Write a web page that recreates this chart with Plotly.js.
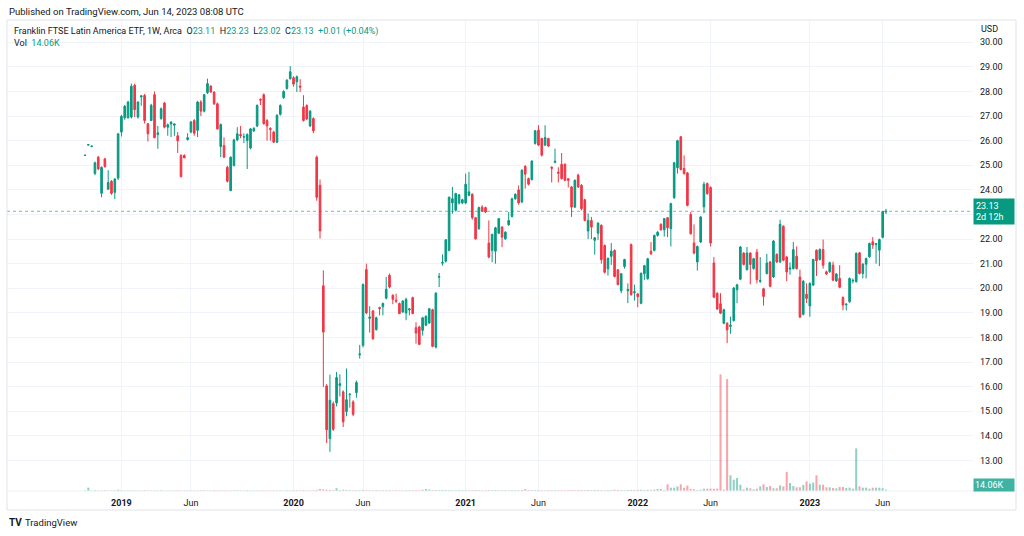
<!DOCTYPE html>
<html>
<head>
<meta charset="utf-8">
<script src="https://cdn.plot.ly/plotly-3.0.1.min.js"></script>
<style>html,body{margin:0;padding:0;background:#fff;}#chart{width:1024px;height:536px;}</style>
</head>
<body>
<div id="chart"></div>
<script>
// ---- DATA (weekly bars, FLLA) ----
const firstWeek = '2018-10-22';
const openP = [25.40,25.82,25.76,24.67,25.33,23.86,25.26,24.03,24.35,23.90,
24.48,26.35,26.93,26.93,26.96,28.25,26.96,27.78,27.84,26.69,
26.82,27.87,26.25,26.90,27.53,26.55,26.68,26.63,26.20,25.40,
25.40,26.05,26.35,26.82,26.42,27.57,27.20,27.95,28.22,27.98,
27.50,25.76,25.80,24.92,23.97,24.99,26.03,26.25,26.15,26.00,
25.70,26.40,26.60,27.68,27.87,26.82,26.50,26.35,25.94,27.07,
27.75,28.12,28.52,28.56,28.40,28.22,27.37,27.43,26.60,26.90,
25.33,24.19,20.10,16.03,13.89,15.31,15.34,16.05,15.79,14.99,
15.68,15.38,15.76,17.30,17.68,20.76,18.78,19.08,18.32,19.22,
19.25,19.60,20.53,19.72,19.52,19.38,19.04,19.00,19.12,19.62,
18.40,18.43,18.29,18.50,18.59,19.13,17.61,20.45,21.02,21.10,
21.54,23.47,23.17,23.47,23.47,23.47,23.78,23.82,22.87,22.42,
23.30,23.28,21.84,21.54,21.51,22.24,22.49,22.01,22.58,22.92,
23.64,24.00,23.51,24.96,24.46,24.42,25.89,26.43,26.09,25.82,
26.09,24.92,25.12,24.72,25.04,25.04,24.45,24.12,23.30,24.60,
24.19,23.60,22.33,22.76,21.95,22.24,22.56,21.74,20.79,21.30,
21.54,20.75,19.90,20.89,19.90,21.78,19.82,19.77,19.39,20.59,
20.39,21.51,21.54,22.15,22.60,22.38,22.87,22.42,23.68,24.90,
26.16,24.87,24.69,23.00,21.84,21.07,21.88,23.31,24.26,24.10,
21.03,19.80,19.37,18.58,18.58,18.45,18.69,19.94,20.37,21.43,
20.76,21.43,20.80,21.47,20.28,19.98,20.60,21.07,20.46,21.38,
21.07,22.52,21.27,20.78,20.80,21.30,20.46,18.94,19.76,19.28,
20.13,21.55,21.17,21.58,20.67,20.67,20.94,20.30,20.40,19.63,
19.33,19.45,20.30,20.27,21.44,20.60,20.98,21.28,21.89,21.78,
21.55,22.07,23.11];
const highP = [25.42,25.86,25.80,25.15,25.38,24.95,25.30,24.80,24.40,24.48,
26.30,27.05,27.45,27.62,28.32,28.32,27.60,27.86,27.90,26.72,
27.50,28.00,26.60,27.35,27.58,26.70,26.80,26.70,26.35,25.45,
25.45,26.30,26.80,26.88,27.62,27.65,27.90,28.52,28.25,28.00,
27.55,26.70,26.14,24.98,25.36,26.08,26.55,26.60,26.30,26.30,
26.52,26.55,27.48,27.72,27.92,26.88,26.55,26.40,27.08,27.48,
28.05,28.50,29.03,28.62,28.65,28.50,27.85,27.48,27.25,26.95,
25.40,24.42,20.73,16.10,16.49,15.40,16.60,16.50,15.85,16.74,
15.72,15.45,16.25,17.70,20.20,21.00,19.27,19.12,18.85,19.25,
19.42,20.46,20.60,19.75,19.78,19.42,19.52,19.62,19.20,19.66,
18.62,18.48,18.84,18.90,19.20,19.17,19.84,20.62,21.38,22.00,
23.71,24.12,23.88,23.82,23.64,24.66,24.73,23.86,22.90,23.32,
23.38,23.32,22.76,22.22,22.50,22.86,22.52,22.32,23.10,23.68,
23.86,24.18,24.84,25.00,24.50,25.20,26.44,26.63,26.12,26.63,
26.12,24.96,25.68,24.92,25.50,25.08,24.48,24.16,24.42,24.66,
24.23,23.64,23.04,22.90,22.08,22.68,22.60,21.78,21.25,21.84,
21.58,20.78,20.62,21.20,20.20,21.82,20.15,19.80,20.64,20.95,
21.24,21.88,22.18,22.32,22.64,22.86,22.90,23.48,25.14,26.04,
26.18,25.40,24.73,23.10,22.60,21.74,22.94,24.33,24.30,24.14,
21.27,19.84,19.80,19.17,18.62,18.85,20.05,20.18,21.72,21.47,
21.68,21.47,21.24,21.60,21.27,20.02,21.40,21.11,21.96,21.42,
22.79,22.56,21.31,21.05,21.88,21.70,20.76,20.33,20.20,20.24,
21.20,21.58,21.62,21.98,20.72,21.08,21.08,20.62,20.94,19.67,
19.40,20.44,20.40,21.46,21.48,21.02,21.25,21.86,22.08,21.84,
22.02,23.15,23.23];
const lowP = [25.38,25.80,25.74,24.60,24.80,23.70,24.90,24.00,23.80,23.63,
24.40,26.17,26.85,26.90,26.90,26.96,26.90,27.42,26.70,25.97,
26.80,26.10,25.67,26.85,26.50,26.20,26.15,26.20,25.50,24.50,
25.30,26.00,26.30,26.20,26.15,27.00,27.15,27.90,27.95,27.45,
26.45,25.33,25.30,24.30,23.95,24.95,25.98,26.10,25.90,24.85,
25.65,26.35,26.55,27.45,26.65,26.00,26.00,25.90,25.90,27.02,
27.70,28.08,28.48,28.20,27.98,27.98,26.78,26.84,26.55,26.30,
23.56,22.02,15.99,13.71,13.35,14.20,15.20,15.60,14.36,14.80,
15.15,14.80,15.55,17.14,17.60,18.95,18.20,17.90,18.28,18.90,
18.90,19.55,20.00,19.35,19.40,18.95,19.00,18.70,18.90,18.95,
17.75,17.70,18.08,18.46,18.55,17.60,17.55,20.05,20.92,21.05,
21.50,23.03,23.12,23.40,23.42,23.42,23.74,22.79,21.98,22.38,
23.10,23.06,21.22,21.06,21.00,22.20,21.67,21.97,22.54,22.88,
23.60,23.40,23.46,24.05,24.18,24.38,25.84,25.78,25.36,25.78,
25.74,24.30,25.08,24.30,24.42,24.35,24.10,22.90,23.26,24.08,
23.17,22.72,22.00,22.00,21.37,21.97,21.00,20.60,20.52,20.95,
20.44,20.12,19.80,20.80,19.40,19.70,19.50,19.23,19.35,20.34,
20.35,21.36,21.50,22.10,22.34,22.10,22.08,21.70,23.64,24.66,
24.79,24.62,23.33,22.18,21.38,20.72,21.84,23.05,23.80,21.70,
19.60,19.12,18.95,18.54,17.77,18.15,18.65,19.40,20.33,20.93,
20.72,20.16,20.76,20.20,20.22,19.30,20.56,20.04,20.42,21.03,
21.03,21.10,20.29,20.55,20.76,20.76,18.79,18.90,19.40,18.84,
20.09,20.50,21.13,20.80,20.54,20.63,20.29,20.26,20.00,19.11,
19.10,19.41,20.20,20.23,20.56,20.40,20.40,21.24,21.60,21.00,
20.90,22.03,23.02];
const closeP = [25.41,25.84,25.78,25.10,24.85,24.92,24.95,24.30,23.86,24.44,
26.28,26.99,27.40,27.57,28.21,27.26,27.57,27.82,26.82,26.28,
27.44,26.12,26.32,27.30,26.55,26.65,26.75,26.68,26.00,24.54,
25.30,26.12,26.76,26.30,27.57,27.20,27.87,28.32,27.98,27.50,
26.48,26.66,25.33,24.35,25.33,26.03,26.28,26.20,26.16,26.25,
26.48,26.50,27.43,27.65,26.69,26.60,26.45,25.94,27.03,27.43,
28.00,28.46,28.80,28.30,28.60,28.18,26.82,26.88,27.20,26.40,
23.70,22.33,18.22,14.25,15.45,14.27,16.37,16.12,14.57,15.47,
15.70,14.88,16.17,17.33,20.15,19.00,18.83,17.95,18.80,19.18,
19.38,19.96,20.05,19.55,19.48,18.97,19.48,19.55,19.16,18.97,
18.18,17.72,18.80,18.86,19.17,17.64,19.80,20.48,21.05,21.97,
23.71,23.64,23.85,23.80,23.60,24.23,23.92,22.87,22.01,23.28,
23.14,23.10,21.27,22.19,22.46,22.83,22.08,22.28,22.76,23.64,
23.82,23.47,24.80,24.64,24.23,25.17,26.40,25.82,25.41,26.13,
25.78,24.88,25.16,24.68,24.46,24.39,24.39,23.30,24.39,24.12,
23.24,22.76,22.76,22.49,22.05,22.65,21.16,20.65,21.22,21.51,
20.48,20.15,20.59,21.17,19.95,19.74,19.86,19.66,20.61,20.92,
21.20,21.40,22.15,22.28,22.38,22.83,22.46,23.44,25.10,26.00,
24.83,24.66,23.37,22.22,21.43,21.70,22.90,24.23,23.85,21.84,
19.64,19.16,18.99,19.13,18.31,18.50,20.01,20.14,21.68,20.97,
21.43,20.97,21.20,20.35,20.32,19.67,21.03,20.08,21.92,21.07,
22.60,21.14,20.66,20.82,21.57,20.80,18.83,20.29,19.59,20.20,
21.17,21.12,21.58,20.94,20.58,21.04,20.33,20.58,20.04,19.32,
19.35,20.40,20.32,21.42,20.60,20.98,21.21,21.82,21.76,21.82,
21.98,23.12,23.13];
// volume in thousands of shares
const volumeK = [6,36,5,8,6,7,9,5,6,8,
14,7,6,5,8,6,5,7,9,6,
5,7,6,8,5,4,6,7,8,5,
6,7,5,4,6,8,7,5,6,9,
7,6,8,5,6,7,9,6,5,8,
7,6,5,6,8,7,5,6,7,6,
5,7,6,8,9,7,10,8,6,9,
12,22,18,14,12,9,30,11,14,12,
9,8,10,7,12,9,8,7,9,6,
8,7,9,6,8,7,6,9,7,8,
10,9,14,22,16,10,9,8,12,10,
9,8,7,10,8,9,7,8,10,9,
8,7,9,8,10,7,9,8,7,10,
9,8,11,20,9,8,10,9,8,7,
9,8,10,9,8,7,9,10,8,9,
11,8,10,9,12,10,9,8,11,10,
14,12,10,9,11,13,10,12,14,11,
13,12,15,22,22,10,72,36,36,50,
72,36,58,22,18,10,14,25,25,25,
25,25,1260,14,1210,170,122,140,68,18,
36,29,18,25,50,72,43,54,29,29,
61,50,205,86,54,40,40,65,104,79,
90,170,68,68,40,40,32,29,43,43,
32,36,25,460,50,36,36,25,36,36,
36,29,14.06];
const priceTicks = [13,14,15,16,17,18,19,20,21,22,23,24,25,26,27,28,29,30];
const timeTickDates = ['2019-01-07','2019-06-03','2020-01-06','2020-06-01','2021-01-04','2021-06-07','2022-01-03','2022-06-06','2023-01-02','2023-06-05'];
const timeTickLabels = ['2019','Jun','2020','Jun','2021','Jun','2022','Jun','2023','Jun'];
const titleText = 'Franklin FTSE Latin America ETF, 1W, Arca';
const publishedText = 'Published on TradingView.com, Jun 14, 2023 08:08 UTC';
const lastVolText = '14.06K';
const countdownText = '2d 12h';

// ---- build ----
const dates = [];
{
  const d0 = new Date(firstWeek + 'T00:00:00Z');
  for (let i = 0; i < openP.length; i++) {
    const d = new Date(d0.getTime() + i * 7 * 86400000);
    dates.push(d.toISOString().slice(0, 10));
  }
}
const UP = '#089981', DN = '#F23645';
const volColors = closeP.map((c, i) => c >= openP[i] ? 'rgba(8,153,129,0.45)' : 'rgba(242,54,69,0.45)');
const n = closeP.length;
const lastO = openP[n-1], lastH = highP[n-1], lastL = lowP[n-1], lastC = closeP[n-1];
const chg = lastC - closeP[n-2];
const chgPct = chg / closeP[n-2] * 100;

const W = 1024, H = 536, ML = 7, MR = 51, MT = 20, MB = 45;
const PW = W - ML - MR, PH = H - MT - MB;
const px = x => (x - ML) / PW;
const py = y => 1 - (y - MT) / PH;
const FONT = 'Roboto, "Open Sans", sans-serif';
const TXT = '#131722';

const candles = {
  type: 'candlestick', x: dates, open: openP, high: highP, low: lowP, close: closeP,
  increasing: {line: {color: UP, width: 1}, fillcolor: UP},
  decreasing: {line: {color: DN, width: 1}, fillcolor: DN},
  whiskerwidth: 0, hoverinfo: 'skip', showlegend: false, xaxis: 'x', yaxis: 'y'
};
const vols = {
  type: 'bar', x: dates, y: volumeK, marker: {color: volColors, line: {width: 0}},
  width: 7 * 86400000 * 0.62, hoverinfo: 'skip', showlegend: false, xaxis: 'x', yaxis: 'y2'
};

const g = s => '<span style="color:' + UP + '">' + s + '</span>';
const legendLine = titleText + '  O' + g(lastO.toFixed(2)) + '  H' + g(lastH.toFixed(2)) +
  '  L' + g(lastL.toFixed(2)) + '  C' + g(lastC.toFixed(2)) + '  ' +
  g((chg >= 0 ? '+' : '') + chg.toFixed(2) + ' (' + (chgPct >= 0 ? '+' : '') + chgPct.toFixed(2) + '%)');

function ann(text, x, y, o) {
  return Object.assign({text: text, xref: 'paper', yref: 'paper', x: px(x), y: py(y),
    xanchor: 'left', yanchor: 'middle', showarrow: false,
    font: {family: FONT, size: 9, color: TXT}}, o || {});
}

const layout = {
  width: W, height: H,
  margin: {l: ML, r: MR, t: MT, b: MB, pad: 0},
  paper_bgcolor: '#ffffff', plot_bgcolor: '#ffffff',
  font: {family: FONT, size: 9, color: TXT},
  showlegend: false,
  xaxis: {
    type: 'date', range: ['2018-05-10', '2023-12-13'],
    rangeslider: {visible: false},
    tickmode: 'array', tickvals: timeTickDates,
    ticktext: timeTickLabels.map(t => t === 'Jun' ? t : '<b>' + t + '</b>'),
    showgrid: true, gridcolor: '#f0f3fa', gridwidth: 1,
    zeroline: false, showline: false, ticks: '', ticklabelstandoff: 5,
    tickfont: {family: FONT, size: 9, color: TXT}, fixedrange: true
  },
  yaxis: {
    side: 'right', range: [11.76, 30.906], tickmode: 'array', tickvals: priceTicks,
    // the 23.00 label is hidden behind the last-price box, as in the reference
    ticktext: priceTicks.map(v => Math.abs(v - lastC) < 0.6 ? '' : v.toFixed(2)),
    showgrid: true, gridcolor: '#f0f3fa', gridwidth: 1,
    zeroline: false, showline: false, ticks: '', ticklabelstandoff: 6,
    tickfont: {family: FONT, size: 9, color: TXT}, fixedrange: true
  },
  yaxis2: {overlaying: 'y', range: [0, 5087], visible: false, fixedrange: true},
  shapes: [
    {type: 'line', xref: 'paper', yref: 'y', x0: 0, x1: 1, y0: lastC, y1: lastC,
     line: {color: 'rgba(8,153,129,0.6)', width: 1, dash: 'dot'}},
    {type: 'rect', xref: 'paper', yref: 'paper', x0: 0, x1: px(1016), y0: py(510), y1: 1,
     line: {color: '#e0e3eb', width: 1}, fillcolor: 'rgba(0,0,0,0)'},
    {type: 'line', xref: 'paper', yref: 'paper', x0: 0, x1: px(1016), y0: 0, y1: 0,
     line: {color: '#eef0f4', width: 1}}
  ],
  annotations: [
    ann(publishedText, 7, 11, {font: {family: FONT, size: 9.5, color: TXT}}),
    ann(legendLine, 12, 31),
    ann('Vol  ' + g(lastVolText), 12, 43),
    ann('USD', 979, 29),
    {text: lastC.toFixed(2) + '<br>' + countdownText, xref: 'paper', yref: 'y', x: 1, y: lastC,
     xanchor: 'left', yanchor: 'middle', showarrow: false, align: 'left',
     bgcolor: UP, borderpad: 2, width: 36, height: 21,
     font: {family: FONT, size: 9, color: '#ffffff'}},
    ann(lastVolText, 973, 485, {bgcolor: '#3fb3a3', borderpad: 1, width: 38, height: 10,
     align: 'left', font: {family: FONT, size: 9, color: '#ffffff'}}),
    ann('<b>TV</b>', 7, 522, {font: {family: FONT, size: 10, color: TXT}}),
    ann('TradingView', 23, 522, {font: {family: FONT, size: 9.5, color: TXT}})
  ]
};

Plotly.newPlot('chart', [vols, candles], layout, {displayModeBar: false, staticPlot: true});
</script>
</body>
</html>
